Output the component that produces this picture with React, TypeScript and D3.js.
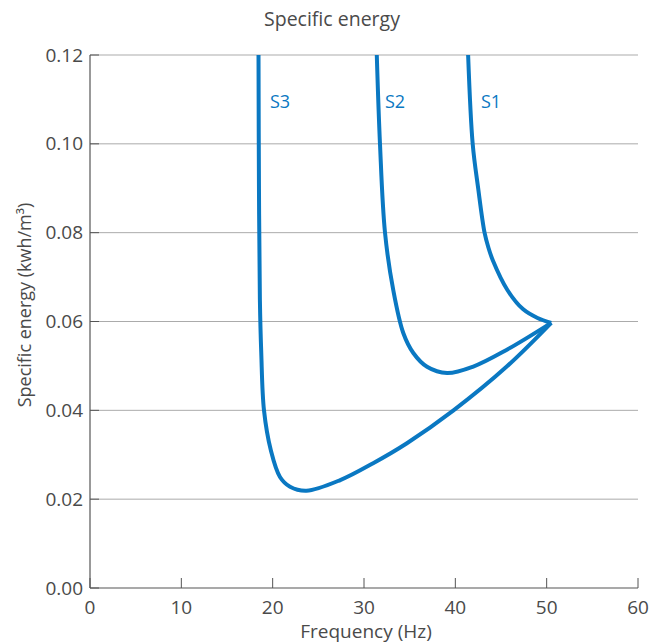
import React from "react";
import * as d3 from "d3";

const xTicks = [0, 10, 20, 30, 40, 50, 60];
const yTicks = [0, 0.02, 0.04, 0.06, 0.08, 0.1, 0.12];

const s1Freq = [41.4, 41.9, 42.5, 43.2, 43.6, 44.1, 45.7, 47.4, 49.0, 50.5];
const s1Energy = [0.12, 0.1, 0.09, 0.08, 0.0768, 0.0738, 0.0671, 0.0628, 0.0608, 0.0597];

const s2Freq = [31.4, 31.75, 32.3, 33.2, 34.3, 35.4, 36.9, 39.1, 41.9, 45.6, 50.5];
const s2Energy = [0.12, 0.1, 0.08, 0.0671, 0.0574, 0.0529, 0.0498, 0.0484, 0.0498, 0.0536, 0.0597];

const s3Freq = [18.45, 18.5, 18.6, 18.75, 19.05, 19.8, 20.8, 21.9, 23.7, 27.4, 31.0, 34.7, 39.8, 45.6, 50.5];
const s3Energy = [0.12, 0.09, 0.065, 0.053, 0.04, 0.031, 0.025, 0.0228, 0.0219, 0.0243, 0.0281, 0.0326, 0.04, 0.0498, 0.0597];

const seriesNames = ["S1", "S2", "S3"];
const labelFreq = [42.8, 32.3, 19.7];
const labelEnergy = [0.1095, 0.1095, 0.1095];

export default function App() {
  const W = 669, H = 644;
  const x = d3.scaleLinear().domain([0, 60]).range([90, 638]);
  const y = d3.scaleLinear().domain([0, 0.12]).range([588, 55]);
  const line = d3
    .line<[number, number]>()
    .x((d) => x(d[0]))
    .y((d) => y(d[1]))
    .curve(d3.curveCatmullRom.alpha(0.5));
  const series = [
    s1Freq.map((f, i) => [f, s1Energy[i]] as [number, number]),
    s2Freq.map((f, i) => [f, s2Energy[i]] as [number, number]),
    s3Freq.map((f, i) => [f, s3Energy[i]] as [number, number]),
  ];
  const font = "'Open Sans', sans-serif";
  const blue = "#0a78c2";
  const textColor = "#4a4a4a";
  return (
    <svg width={W} height={H} style={{ position: "absolute", left: 0, top: 0 }} fontFamily={font}>
      <text x={332} y={26} textAnchor="middle" fontSize={19.5} fill={textColor}>
        Specific energy
      </text>
      {yTicks.map((t) => (
        <g key={"y" + t}>
          {t > 0 && (
            <line x1={90} x2={638} y1={y(t)} y2={y(t)} stroke="#ababab" strokeWidth={1} />
          )}
          <line x1={90} x2={99} y1={y(t)} y2={y(t)} stroke="#555" strokeWidth={1} />
          <text x={83} y={y(t)} dy="0.35em" textAnchor="end" fontSize={19} fill={textColor}>
            {t.toFixed(2)}
          </text>
        </g>
      ))}
      {xTicks.map((t) => (
        <g key={"x" + t}>
          <line x1={x(t)} x2={x(t)} y1={588} y2={578} stroke="#555" strokeWidth={1} />
          <text x={x(t)} y={614} textAnchor="middle" fontSize={19} fill={textColor}>
            {t}
          </text>
        </g>
      ))}
      <line x1={90} x2={90} y1={55} y2={588} stroke="#555" strokeWidth={1.2} />
      <line x1={90} x2={638} y1={588} y2={588} stroke="#555" strokeWidth={1.2} />
      <text x={366} y={638} textAnchor="middle" fontSize={19} fill={textColor}>
        Frequency (Hz)
      </text>
      <text
        transform={`translate(31,${305}) rotate(-90)`}
        textAnchor="middle"
        fontSize={18}
        fill={textColor}
      >
        Specific energy (kwh/m³)
      </text>
      {series.map((s, i) => (
        <path key={i} d={line(s) || ""} fill="none" stroke={blue} strokeWidth={4} strokeLinejoin="round" />
      ))}
      {seriesNames.map((n, i) => (
        <text key={n} x={x(labelFreq[i])} y={y(labelEnergy[i])} dy="0.35em" fontSize={18} fill={blue}>
          {n}
        </text>
      ))}
    </svg>
  );
}
